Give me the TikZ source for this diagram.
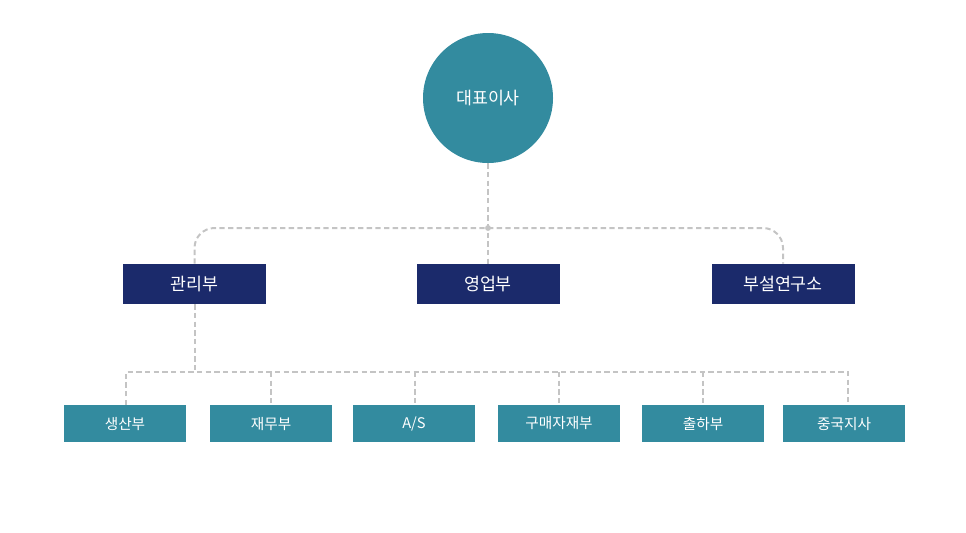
\documentclass[tikz,border=0pt]{standalone}
\usepackage{fontspec}
\setmainfont{Noto Sans CJK KR}
\definecolor{navy}{HTML}{1B2A6B}
\definecolor{teal}{HTML}{338B9F}
\definecolor{dashgray}{HTML}{C4C4C4}
\begin{document}
\begin{tikzpicture}[x=0.75pt,y=-0.75pt,
  mid/.style={fill=navy,text=white,minimum width=107.25pt,minimum height=30pt,inner sep=0pt,font=\fontsize{13}{15}\selectfont},
  low/.style={fill=teal,text=white,minimum width=91.5pt,minimum height=27.75pt,inner sep=0pt,font=\fontsize{11}{13}\selectfont},
  conn/.style={draw=dashgray,line width=1.5pt,dash pattern=on 4pt off 2.5pt}]
\useasboundingbox (0,0) rectangle (966,532);
\node[circle,fill=teal,text=white,minimum size=97.5pt,inner sep=0pt,font=\fontsize{13}{15}\selectfont] (ceo) at (488,98) {대표이사};
\node[mid] (m1) at (194.5,284) {관리부};
\node[mid] (m2) at (488,284) {영업부};
\node[mid] (m3) at (783,284) {부설연구소};
\node[low] (b1) at (125,423.5) {생산부};
\node[low] (b2) at (271,423.5) {재무부};
\node[low] (b3) at (414,423.5) {A/S};
\node[low] (b4) at (559,423.5) {구매자재부};
\node[low] (b5) at (703,423.5) {출하부};
\node[low] (b6) at (844,423.5) {중국지사};
\coordinate (j) at (488,228);
\coordinate (k) at (194.5,372);
\draw[conn] (ceo.south) -- (m2.north);
\draw[conn,rounded corners=15pt] (m1.north) |- (j) -| (m3.north);
\fill[dashgray] (j) circle (2.2pt);
\draw[conn] (m1.south) -- (k);
\draw[conn] (126,405) |- (k) -| (848,405);
\foreach \x in {271,415,559,703} \draw[conn] (\x,372) -- (\x,405);
\end{tikzpicture}
\end{document}
